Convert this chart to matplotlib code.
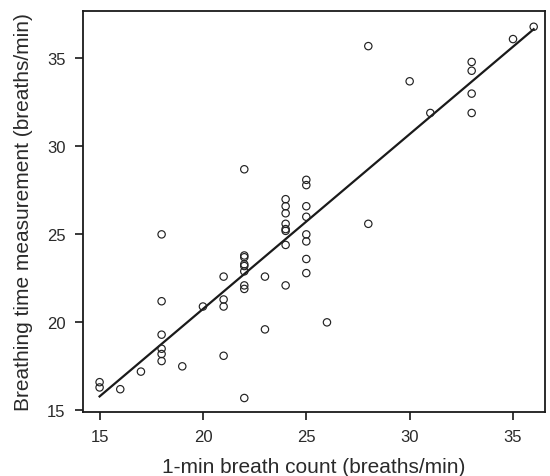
import numpy as np
import matplotlib.pyplot as plt

plt.rcParams['font.family'] = ['Liberation Sans', 'DejaVu Sans']

# 1-min breath count (integer counts) and breathing-time measurement
count = [15, 15, 16, 17,
         18, 18, 18, 18, 18, 18, 19, 20,
         21, 21, 21, 21,
         22, 22, 22, 22, 22, 22, 22, 22, 22,
         23, 23,
         24, 24, 24, 24, 24, 24, 24, 24,
         25, 25, 25, 25, 25, 25, 25, 25,
         26, 28, 28, 30, 31,
         33, 33, 33, 33, 35, 36]
measured = [16.6, 16.3, 16.2, 17.2,
            25.0, 21.2, 19.3, 18.5, 18.2, 17.8, 17.5, 20.9,
            22.6, 21.3, 20.9, 18.1,
            28.7, 23.8, 23.7, 23.3, 23.2, 22.9, 22.1, 21.9, 15.7,
            22.6, 19.6,
            27.0, 26.6, 26.2, 25.6, 25.3, 25.2, 24.4, 22.1,
            28.1, 27.8, 26.6, 26.0, 25.0, 24.6, 23.6, 22.8,
            20.0, 35.7, 25.6, 33.7, 31.9,
            34.8, 34.3, 33.0, 31.9, 36.1, 36.8]

x = np.array(count, dtype=float)
y = np.array(measured)
slope, intercept = np.polyfit(x, y, 1)

fig = plt.figure(figsize=(5.5, 4.77), dpi=100)
ax = fig.add_axes([0.151, 0.134, 0.84, 0.841])

ax.scatter(x, y, s=28, facecolors='none', edgecolors='#222222', linewidths=0.85, zorder=3)
xl = np.array([x.min(), x.max()])
ax.plot(xl, slope * xl + intercept, color='#1a1a1a', lw=1.6, zorder=2)

ax.set_xlim(14.2, 36.55)
ax.set_ylim(14.9, 37.7)
ax.set_xticks([15, 20, 25, 30, 35])
ax.set_yticks([15, 20, 25, 30, 35])
ax.tick_params(direction='out', length=5.5, width=1.3, pad=7, labelsize=12, colors='#2a2a2a')
for s in ax.spines.values():
    s.set_linewidth(1.3)
    s.set_color('#1a1a1a')

ax.set_xlabel('1-min breath count (breaths/min)', fontsize=15, color='#2a2a2a')
ax.set_ylabel('Breathing time measurement (breaths/min)', fontsize=15, color='#2a2a2a')
ax.xaxis.set_label_coords(0.5, -0.112)
ax.yaxis.set_label_coords(-0.108, 0.5)

fig.savefig('out.png', dpi=100)
